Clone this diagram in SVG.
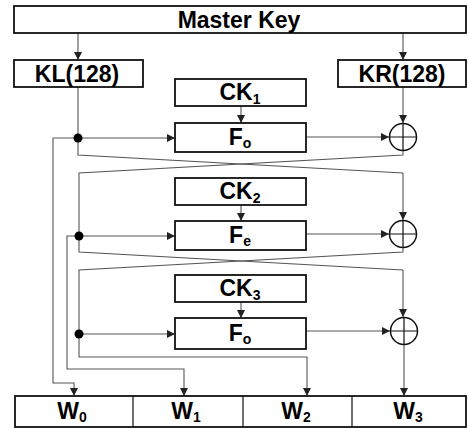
<svg xmlns="http://www.w3.org/2000/svg" width="468" height="428" viewBox="0 0 468 428">
<defs>
<marker id="ah" viewBox="0 0 8 8" refX="8" refY="4" markerWidth="8" markerHeight="8" markerUnits="userSpaceOnUse" orient="auto">
<path d="M0,0 L8,4 L0,8 Z" fill="#222"/>
</marker>
</defs>
<style>
.box{fill:#fff;stroke:#111;stroke-width:1.8}
.lbl{font-family:"Liberation Sans",Arial,sans-serif;font-weight:bold;font-size:23px;fill:#000;text-anchor:middle}
.sub{font-size:14px}
.ln{fill:none;stroke:#555;stroke-width:1.1}
.arr{fill:none;stroke:#555;stroke-width:1.1;marker-end:url(#ah)}
.xor{fill:#fff;stroke:#111;stroke-width:1.5}
.xl{stroke:#111;stroke-width:1.2}
</style>
<rect width="468" height="428" fill="#fff"/>
<g id="connectors">
<path class="arr" d="M78,33 V60"/>
<path class="arr" d="M403,33 V60"/>
<path class="ln" d="M78,87 V138"/>
<path class="arr" d="M78,138 H175"/>
<path class="arr" d="M241,106 V123"/>
<path class="arr" d="M306,137 H389"/>
<path class="arr" d="M403,87 V123"/>
<path class="ln" d="M78,138 V155 L403,173"/>
<path class="arr" d="M403,173 V220"/>
<path class="ln" d="M403,151 V155 L79,173 V236"/>
<path class="arr" d="M79,236 H175"/>
<path class="arr" d="M241,205 V221"/>
<path class="arr" d="M306,234 H389"/>
<path class="ln" d="M79,236 V252 L403,270"/>
<path class="arr" d="M403,270 V317"/>
<path class="ln" d="M403,248 V252 L79,270 V334"/>
<path class="arr" d="M79,334 H175"/>
<path class="arr" d="M241,302 V318"/>
<path class="arr" d="M306,331 H390"/>
<path class="arr" d="M78,138 H53 V383 H74 V396"/>
<path class="arr" d="M79,236 H67 V369 H184 V396"/>
<path class="arr" d="M79,334 V357 H307 V396"/>
<path class="arr" d="M404,345 V396"/>
</g>
<g id="master-key">
<rect class="box" x="14" y="6" width="452" height="27"/>
<text class="lbl" x="239" y="28">Master Key</text>
</g>
<g id="kl">
<rect class="box" x="14" y="60" width="129" height="27"/>
<text class="lbl" x="77" y="82">KL(128)</text>
</g>
<g id="kr">
<rect class="box" x="338" y="60" width="128" height="27"/>
<text class="lbl" x="402" y="82">KR(128)</text>
</g>
<g id="ck1">
<rect class="box" x="175" y="79" width="131" height="27"/>
<text class="lbl" x="240" y="100">CK<tspan class="sub" dy="4">1</tspan></text>
</g>
<g id="fo1">
<rect class="box" x="175" y="123" width="131" height="29"/>
<text class="lbl" x="240" y="145">F<tspan class="sub" dy="3">o</tspan></text>
</g>
<g id="ck2">
<rect class="box" x="175" y="178" width="131" height="27"/>
<text class="lbl" x="240" y="199">CK<tspan class="sub" dy="4">2</tspan></text>
</g>
<g id="fe2">
<rect class="box" x="175" y="221" width="131" height="29"/>
<text class="lbl" x="240" y="243">F<tspan class="sub" dy="3">e</tspan></text>
</g>
<g id="ck3">
<rect class="box" x="175" y="275" width="131" height="27"/>
<text class="lbl" x="240" y="296">CK<tspan class="sub" dy="4">3</tspan></text>
</g>
<g id="fo3">
<rect class="box" x="175" y="318" width="131" height="31"/>
<text class="lbl" x="240" y="341">F<tspan class="sub" dy="3">o</tspan></text>
</g>
<g id="xor1">
<circle class="xor" cx="403" cy="137" r="13.5"/>
<path class="xl" d="M389.5,137 H416.5 M403,123.5 V150.5"/>
</g>
<g id="xor2">
<circle class="xor" cx="403" cy="234" r="13.5"/>
<path class="xl" d="M389.5,234 H416.5 M403,220.5 V247.5"/>
</g>
<g id="xor3">
<circle class="xor" cx="404" cy="331" r="13.5"/>
<path class="xl" d="M390.5,331 H417.5 M404,317.5 V344.5"/>
</g>
<g id="dots">
<circle cx="78" cy="138" r="4.5" fill="#000"/>
<circle cx="79" cy="236" r="4.5" fill="#000"/>
<circle cx="79" cy="334" r="4.5" fill="#000"/>
</g>
<g id="w-row">
<rect class="box" x="15" y="396" width="451" height="31"/>
<path class="xl" d="M133,396 V427 M243,396 V427 M352,396 V427"/>
<text class="lbl" x="72" y="419">W<tspan class="sub" dy="3">0</tspan></text>
<text class="lbl" x="186" y="419">W<tspan class="sub" dy="3">1</tspan></text>
<text class="lbl" x="296" y="419">W<tspan class="sub" dy="3">2</tspan></text>
<text class="lbl" x="408" y="419">W<tspan class="sub" dy="3">3</tspan></text>
</g>
</svg>
